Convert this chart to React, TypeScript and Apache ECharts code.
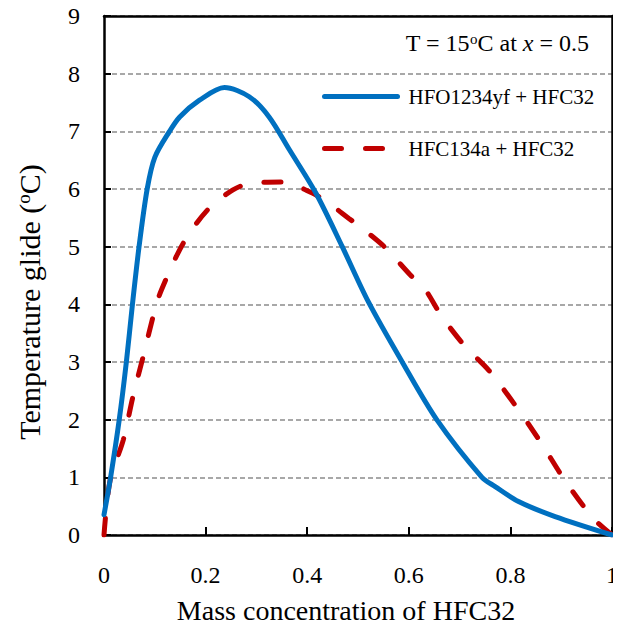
import React, { useEffect, useRef } from "react";
import * as echarts from "echarts";

const seriesNames = ["HFO1234yf + HFC32", "HFC134a + HFC32"];

const hfo1234yf: [number, number][] = [
  [0, 0.35], [0.013, 1.0], [0.03, 2.0], [0.044, 3.0], [0.056, 4.0], [0.069, 5.0],
  [0.085, 6.0], [0.1, 6.55], [0.129, 7.0], [0.149, 7.25], [0.188, 7.54], [0.237, 7.76],
  [0.286, 7.6], [0.325, 7.25], [0.365, 6.68], [0.417, 5.93], [0.469, 5.0], [0.52, 4.05],
  [0.587, 3.0], [0.655, 2.0], [0.744, 1.0], [0.77, 0.84], [0.816, 0.58], [0.888, 0.32], [1, 0],
];

const hfc134a: [number, number][] = [
  [0, 0], [0.012, 0.95], [0.038, 1.65], [0.057, 2.4], [0.077, 3.09], [0.1, 3.9],
  [0.113, 4.25], [0.156, 5.06], [0.204, 5.64], [0.253, 5.98], [0.289, 6.1], [0.351, 6.12],
  [0.41, 5.93], [0.443, 5.75], [0.482, 5.49], [0.508, 5.32], [0.548, 5.03], [0.57, 4.83],
  [0.603, 4.51], [0.629, 4.3], [0.665, 3.79], [0.711, 3.27], [0.757, 2.86], [0.816, 2.17],
  [0.861, 1.59], [0.907, 0.95], [0.963, 0.29], [1, 0],
];

const FONT = "Liberation Serif";

export default function App() {
  const ref = useRef<HTMLDivElement>(null);
  useEffect(() => {
    if (!ref.current) return;
    const chart = echarts.init(ref.current, null, { renderer: "svg" });
    chart.setOption({
      animation: false,
      backgroundColor: "#fff",
      grid: { left: 104, top: 16, right: 7, bottom: 100, containLabel: false },
      legend: {
        orient: "vertical",
        left: 322,
        top: 86,
        padding: 0,
        itemWidth: 73,
        itemHeight: 18,
        itemGap: 31,
        itemStyle: { opacity: 0 },
        textStyle: { fontFamily: FONT, fontSize: 21, color: "#000", padding: [0, 0, 0, 6] },
        data: [
          { name: seriesNames[0], itemStyle: { opacity: 0 }, lineStyle: { width: 5, cap: "round" } },
          { name: seriesNames[1], itemStyle: { opacity: 0 }, lineStyle: { width: 5, cap: "round", type: [17, 24] } },
        ],
      },
      xAxis: [
        {
          type: "value",
          min: 0,
          max: 1,
          interval: 0.2,
          axisLine: { show: true, onZero: false, lineStyle: { color: "#000", width: 2.5 } },
          axisTick: { show: true, inside: true, length: 8, lineStyle: { color: "#000", width: 2 } },
          axisLabel: {
            margin: 28,
            fontFamily: FONT,
            fontSize: 24,
            color: "#000",
            formatter: (v: number) => String(Math.round(v * 10) / 10),
          },
          splitLine: { show: false },
        },
        {
          type: "value",
          position: "top",
          min: 0,
          max: 1,
          axisLine: { show: true, onZero: false, lineStyle: { color: "#000", width: 2.5 } },
          axisTick: { show: false },
          axisLabel: { show: false },
          splitLine: { show: false },
        },
      ],
      yAxis: [
        {
          type: "value",
          min: 0,
          max: 9,
          interval: 1,
          axisLine: { show: true, onZero: false, lineStyle: { color: "#000", width: 2.5 } },
          axisTick: { show: true, inside: true, length: 7, lineStyle: { color: "#000", width: 2 } },
          axisLabel: { margin: 24, fontFamily: FONT, fontSize: 24, color: "#000" },
          splitLine: { show: true, lineStyle: { color: "#8c8c8c", width: 1.5, type: [5, 3] } },
        },
        {
          type: "value",
          position: "right",
          min: 0,
          max: 9,
          axisLine: { show: true, onZero: false, lineStyle: { color: "#000", width: 2.5 } },
          axisTick: { show: false },
          axisLabel: { show: false },
          splitLine: { show: false },
        },
      ],
      series: [
        {
          name: seriesNames[0],
          type: "line",
          data: hfo1234yf,
          smooth: 0.3,
          showSymbol: false,
          symbol: "none",
          lineStyle: { color: "#0070C0", width: 5, cap: "round" },
          itemStyle: { color: "#0070C0" },
          z: 3,
        },
        {
          name: seriesNames[1],
          type: "line",
          data: hfc134a,
          smooth: 0.3,
          showSymbol: false,
          symbol: "none",
          lineStyle: { color: "#C00000", width: 5, type: [17, 24], cap: "round" },
          itemStyle: { color: "#C00000" },
          z: 2,
        },
      ],
      graphic: [
        {
          type: "text",
          right: 32,
          top: 31,
          style: {
            text: "T = 15{sup|o}C at {it|x} = 0.5",
            font: "24px 'Liberation Serif'",
            fontFamily: FONT,
            fontSize: 24,
            fill: "#000",
            rich: {
              sup: { fontFamily: FONT, fontSize: 15, verticalAlign: "top", fill: "#000" },
              it: { fontFamily: FONT, fontSize: 24, fontStyle: "italic", fill: "#000" },
            },
          },
        },
        {
          type: "text",
          x: 346,
          y: 610,
          style: {
            text: "Mass concentration of HFC32",
            font: "28px 'Liberation Serif'",
            fontFamily: FONT,
            fontSize: 28,
            fill: "#000",
            align: "center",
            verticalAlign: "middle",
          },
        },
        {
          type: "text",
          x: 29,
          y: 302,
          rotation: Math.PI / 2,
          style: {
            text: "Temperature glide ({sup|o}C)",
            font: "30px 'Liberation Serif'",
            fontFamily: FONT,
            fontSize: 30,
            fill: "#000",
            align: "center",
            verticalAlign: "middle",
            rich: {
              sup: { fontFamily: FONT, fontSize: 19, verticalAlign: "top", fill: "#000" },
            },
          },
        },
      ],
    });
    return () => chart.dispose();
  }, []);
  return <div ref={ref} style={{ width: 621, height: 635, margin: -8 }} />;
}
